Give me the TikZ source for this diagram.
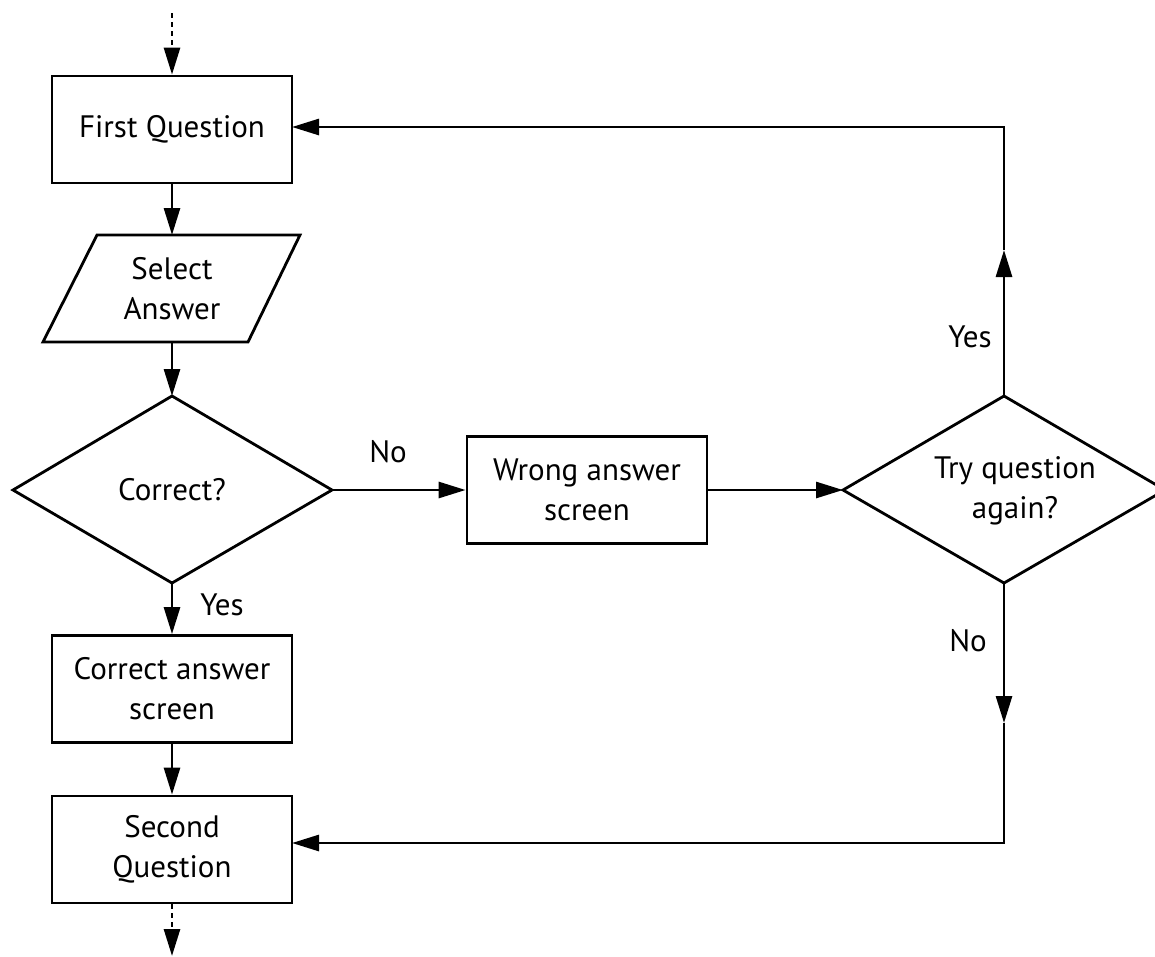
\documentclass[tikz,border=0pt]{standalone}
\usepackage{fontspec}
\setmainfont{PT Sans}
\usetikzlibrary{arrows.meta}
\tikzset{
  box/.style={draw, line width=2.8pt, minimum width=240pt, minimum height=107pt, inner sep=0pt, align=center, font=\fontsize{31}{40}\selectfont},
  txt/.style={align=center, inner sep=0pt, font=\fontsize{31}{40}\selectfont},
  shapeline/.style={draw, line width=2.8pt, line join=miter},
  arr/.style={line width=2.8pt, -{Triangle[length=27pt,width=16pt]}},
  dotarr/.style={line width=2.8pt, dash pattern=on 5pt off 4pt, -{Triangle[length=27pt,width=16pt]}},
  lab/.style={inner sep=0pt, font=\fontsize{31}{40}\selectfont}
}
\begin{document}
\begin{tikzpicture}[x=1pt,y=-1pt]
\useasboundingbox (0,0) rectangle (1155,956);
% boxes
\node[box] (fq) at (172,129.5) {First Question};
\node[box] (wrong) at (587,490) {Wrong answer\\screen};
\node[box] (ca) at (172,689) {Correct answer\\screen};
\node[box] (sq) at (172,849.5) {Second\\Question};
% parallelogram
\coordinate (selT) at (172,235);
\coordinate (selB) at (172,342);
\draw[shapeline] (97,235) -- (300,235) -- (248,342) -- (43,342) -- cycle;
\node[txt] (sel) at (172,289) {Select\\Answer};
% diamond correct
\coordinate (corT) at (172,396);
\coordinate (corR) at (332,490);
\coordinate (corB) at (172,583);
\coordinate (corL) at (13,490);
\draw[shapeline] (corT) -- (corR) -- (corB) -- (corL) -- cycle;
\node[txt] (cor) at (172,490) {Correct?};
% diamond try
\coordinate (tryT) at (1004,396);
\coordinate (tryR) at (1165,490);
\coordinate (tryB) at (1004,583);
\coordinate (tryL) at (843,490);
\draw[shapeline] (tryT) -- (tryR) -- (tryB) -- (tryL) -- cycle;
\node[txt] (try) at (1015,491) {Try question\\again?};
% connectors
\coordinate (topS) at (172,13);
\coordinate (botE) at (172,956);
\draw[dotarr] (topS) -- (fq.north);
\draw[arr] (fq.south) -- (selT);
\draw[arr] (selB) -- (corT);
\draw[arr] (corR) -- (wrong.west);
\draw[arr] (wrong.east) -- (tryL);
\draw[arr] (corB) -- (ca.north);
\draw[arr] (ca.south) -- (sq.north);
\draw[dotarr] (sq.south) -- (botE);
% yes loop
\coordinate (upA) at (1004,250);
\coordinate (upC) at (1004,127);
\coordinate (fqE) at (292,127);
\draw[arr] (tryT) -- (upA);
\draw[arr] (upA) -- (upC) -- (fqE);
% no loop
\coordinate (dnA) at (1004,723);
\coordinate (dnC) at (1004,843);
\coordinate (sqE) at (292,843);
\draw[arr] (tryB) -- (dnA);
\draw[arr] (dnA) -- (dnC) -- (sqE);
% labels
\node[lab] (lno1) at (388,452) {No};
\node[lab] (lyes1) at (222,605) {Yes};
\node[lab] (lyes2) at (970,337) {Yes};
\node[lab] (lno2) at (968,641) {No};
\end{tikzpicture}
\end{document}
